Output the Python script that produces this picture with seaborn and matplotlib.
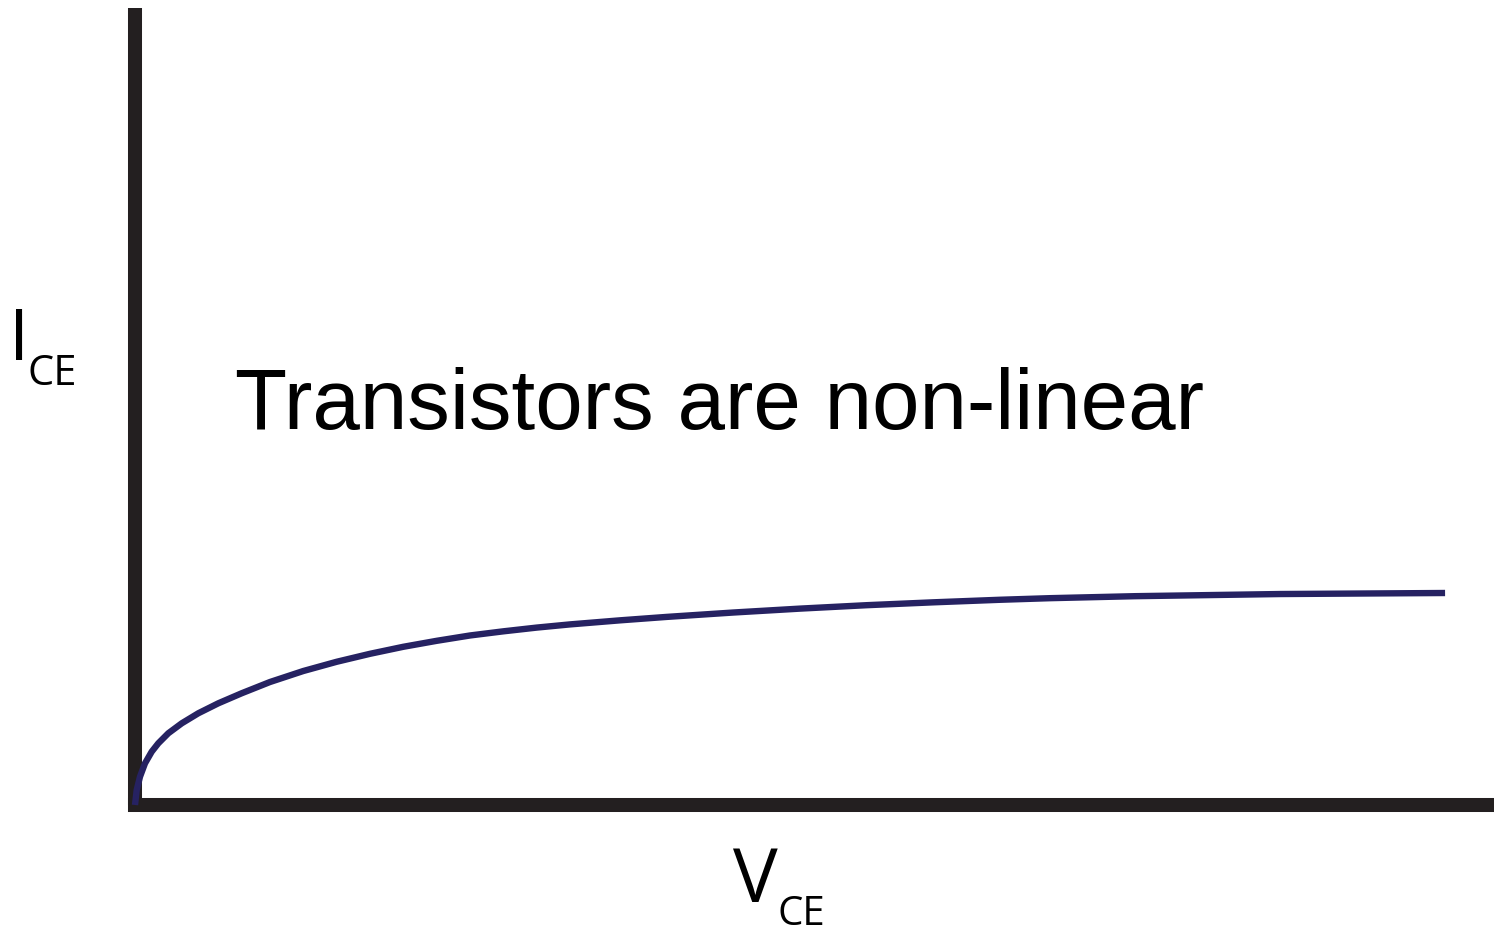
import numpy as np
import pandas as pd
import seaborn as sns
from matplotlib import pyplot as plt

# curve (V_CE, I_CE in arbitrary units)
vce = [0, 0.0125, 0.0368, 0.0736, 0.1229, 0.1714, 0.245, 0.344, 0.466,
       0.613, 0.785, 0.993, 1.238, 1.484, 1.729, 1.974, 2.220, 2.465,
       2.710, 2.956, 3.201, 3.569, 3.912, 4.402, 4.893, 5.384, 5.874,
       6.365, 6.733, 7.358, 8.425, 9.64]
ice = [0, 0.188, 0.355, 0.523, 0.669, 0.774, 0.900, 1.025, 1.151,
       1.276, 1.402, 1.543, 1.681, 1.797, 1.897, 1.985, 2.060, 2.127,
       2.179, 2.226, 2.266, 2.317, 2.360, 2.415, 2.464, 2.507, 2.543,
       2.575, 2.595, 2.620, 2.647, 2.660]

title = "Transistors are non-linear"
xname, xsub = "V", "CE"
yname, ysub = "I", "CE"

sns.set_style("white")
plt.rcParams['font.family'] = ['Liberation Sans', 'DejaVu Sans']

W, H = 1494, 933
fig = plt.figure(figsize=(W / 100, H / 100), dpi=100)
ax = fig.add_axes([135 / W, (H - 805) / H, (W - 135) / W, (805 - 8) / H])

data = pd.DataFrame({'vce': vce, 'ice': ice})
sns.lineplot(data=data, x='vce', y='ice', ax=ax, color='#262262', lw=4.6,
             zorder=3, clip_on=False, solid_joinstyle='round',
             solid_capstyle='butt')
ax.set_xlim(0, 10)
ax.set_ylim(0, 10)
ax.set_xticks([])
ax.set_yticks([])
ax.set_xlabel('')
ax.set_ylabel('')

for side in ['top', 'right']:
    ax.spines[side].set_visible(False)
for side in ['left', 'bottom']:
    ax.spines[side].set_color('#231f20')
    ax.spines[side].set_linewidth(10.1)
ax.spines['left'].set_capstyle('butt')
ax.spines['bottom'].set_capstyle('projecting')


def ftext(px, py, s, size, family):
    fig.text(px / W, 1 - py / H, s, fontsize=size, family=family,
             ha='left', va='baseline', color='black')


ftext(235, 429, title, 61.5, ['Liberation Sans', 'DejaVu Sans'])

ftext(9, 360, yname, 52, ['Open Sans', 'DejaVu Sans'])
ftext(27, 385, ysub, 30, ['Open Sans', 'DejaVu Sans'])
ftext(733, 902, xname, 54, ['Open Sans', 'DejaVu Sans'])
ftext(778, 925, xsub, 29, ['Open Sans', 'DejaVu Sans'])

fig.savefig('out.png', dpi=100)
